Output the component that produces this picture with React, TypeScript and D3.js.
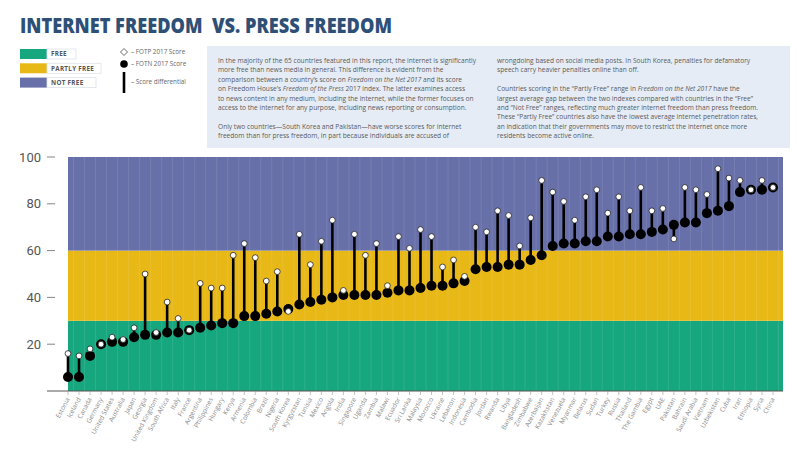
import React from "react";
import * as d3 from "d3";

const countries = ["Estonia","Iceland","Canada","Germany","United States","Australia","Japan","Georgia","United Kingdom","South Africa","Italy","France","Argentina","Philippines","Hungary","Kenya","Armenia","Colombia","Brazil","Nigeria","South Korea","Kyrgyzstan","Tunisia","Mexico","Angola","India","Singapore","Uganda","Zambia","Malawi","Ecuador","Sri Lanka","Malaysia","Morocco","Ukraine","Lebanon","Indonesia","Cambodia","Jordan","Rwanda","Libya","Bangladesh","Zimbabwe","Azerbaijan","Kazakhstan","Venezuela","Myanmar","Belarus","Sudan","Turkey","Russia","Thailand","The Gambia","Egypt","UAE","Pakistan","Bahrain","Saudi Arabia","Vietnam","Uzbekistan","Cuba","Iran","Ethiopia","Syria","China"];
const fotn = [6,6,15,20,21,21,23,24,24,25,25,26,27,28,29,29,32,32,33,34,35,37,38,39,40,41,41,41,41,42,43,43,44,45,45,46,47,52,53,53,54,54,56,58,62,63,63,64,64,66,66,67,67,68,69,71,72,72,76,77,79,85,86,86,87];
const fotp = [16,15,18,20,23,22,27,50,25,38,31,26,46,44,44,58,63,57,47,51,34,67,54,64,73,43,67,58,63,45,66,61,69,66,53,56,49,70,68,77,75,62,74,90,85,81,73,83,86,76,83,77,87,77,78,65,87,86,84,95,91,90,86,90,87];
const yTicks = [20, 40, 60, 80, 100];
const bands = [
  { label: "FREE", from: 0, to: 30, color: "#17a77f" },
  { label: "PARTLY FREE", from: 30, to: 60, color: "#e8b817" },
  { label: "NOT FREE", from: 60, to: 100, color: "#6870a9" },
];

type Seg = { t: string; i?: boolean };
const col1: Seg[][] = [
  [{ t: "In the majority of the 65 countries featured in this report, the internet is significantly" }],
  [{ t: "more free than news media in general. This difference is evident from the" }],
  [{ t: "comparison between a country\u2019s score on " }, { t: "Freedom on the Net 2017", i: true }, { t: " and its score" }],
  [{ t: "on Freedom House\u2019s " }, { t: "Freedom of the Press", i: true }, { t: " 2017 index. The latter examines access" }],
  [{ t: "to news content in any medium, including the internet, while the former focuses on" }],
  [{ t: "access to the internet for any purpose, including news reporting or consumption." }],
  [],
  [{ t: "Only two countries\u2014South Korea and Pakistan\u2014have worse scores for internet" }],
  [{ t: "freedom than for press freedom, in part because individuals are accused of" }],
];
const col2: Seg[][] = [
  [{ t: "wrongdoing based on social media posts. In South Korea, penalties for defamatory" }],
  [{ t: "speech carry heavier penalties online than off." }],
  [],
  [{ t: "Countries scoring in the \u201cPartly Free\u201d range in " }, { t: "Freedom on the Net 2017", i: true }, { t: " have the" }],
  [{ t: "largest average gap between the two indexes compared with countries in the \u201cFree\u201d" }],
  [{ t: "and \u201cNot Free\u201d ranges, reflecting much greater internet freedom than press freedom." }],
  [{ t: "These \u201cPartly Free\u201d countries also have the lowest average internet penetration rates," }],
  [{ t: "an indication that their governments may move to restrict the internet once more" }],
  [{ t: "residents become active online." }],
];

export default function App() {
  const W = 800, H = 452;
  const x = d3.scalePoint<string>().domain(countries).range([68, 773]);
  const step = x.step();
  const y = d3.scaleLinear().domain([0, 100]).range([391, 157]);
  const plotL = 68, plotR = 783;
  const font = "'Open Sans', 'Liberation Sans', sans-serif";
  const txtFill = "#5a5a5a";

  const renderCol = (lines: Seg[][], x0: number, y0: number, lh: number) =>
    lines.map((segs, li) => (
      <text key={li} x={x0} y={y0 + li * lh} fontSize={6.6} fill={txtFill} fontFamily={font}>
        {segs.map((s, si) => (
          <tspan key={si} fontStyle={s.i ? "italic" : "normal"}>{s.t}</tspan>
        ))}
      </text>
    ));

  return (
    <svg width={W} height={H} style={{ position: "absolute", left: 0, top: 0, background: "#fff" }} fontFamily={font}>
      <rect x={0} y={0} width={W} height={H} fill="#fff" />
      {/* Title */}
      <text x={20} y={33} fontSize={21} fontWeight={800} fill="#2e5077" textLength={372} lengthAdjust="spacingAndGlyphs">
        {"INTERNET FREEDOM\u00a0\u00a0VS. PRESS FREEDOM"}
      </text>

      {/* Legend bands */}
      {bands.map((b, i) => {
        const yy = 49 + i * 14.3;
        const bw = [29, 54, 49][i];
        return (
          <g key={b.label}>
            <rect x={20} y={yy} width={27} height={10} fill={b.color} />
            <rect x={47} y={yy} width={bw} height={10} fill="#fff" stroke="#dde3e8" strokeWidth={0.8} />
            <text x={51} y={yy + 7.3} fontSize={6.3} fontWeight={700} fill="#555" letterSpacing={0.3}>{b.label}</text>
          </g>
        );
      })}

      {/* Legend symbols */}
      <path d="M124,48.5 L127.5,52 L124,55.5 L120.5,52 Z" fill="#fff" stroke="#444" strokeWidth={0.8} />
      <text x={131} y={54.3} fontSize={6.3} fill="#666">– FOTP 2017 Score</text>
      <circle cx={124} cy={64} r={3.8} fill="#000" />
      <text x={131} y={66.3} fontSize={6.3} fill="#666">– FOTN 2017 Score</text>
      <rect x={122.7} y={72} width={2.6} height={21} fill="#000" />
      <text x={131} y={84.3} fontSize={6.3} fill="#666">– Score differential</text>

      {/* Text box */}
      <rect x={207} y={46} width={583} height={102} fill="#e6ecf5" />
      {renderCol(col1, 218, 63, 9.4)}
      {renderCol(col2, 497, 63, 9.4)}

      {/* Plot bands */}
      {bands.map((b) => (
        <rect key={b.label} x={plotL} y={y(b.to)} width={plotR - plotL} height={y(b.from) - y(b.to)} fill={b.color} />
      ))}
      {/* faint vertical grid */}
      {countries.map((c) => (
        <line key={"g" + c} x1={(x(c) as number) + step / 2} x2={(x(c) as number) + step / 2} y1={y(100)} y2={y(0)} stroke="#ffffff" strokeOpacity={0.13} strokeWidth={0.8} />
      ))}

      {/* Y axis */}
      {yTicks.map((t) => (
        <g key={t}>
          <text x={41} y={y(t) + 4.5} fontSize={13} fill="#555" textAnchor="end" fontFamily="'Roboto', sans-serif">{t}</text>
          <line x1={47} x2={55} y1={y(t)} y2={y(t)} stroke="#777" strokeWidth={0.9} />
        </g>
      ))}
      <line x1={47} x2={plotR} y1={y(0)} y2={y(0)} stroke="#555" strokeWidth={1} />

      {/* X ticks & labels */}
      {countries.map((c) => {
        const cx = x(c) as number;
        return (
          <g key={"x" + c}>
            <line x1={cx} x2={cx} y1={y(0)} y2={y(0) + 4} stroke="#999" strokeWidth={0.6} />
            <text transform={`translate(${cx + 2},${y(0) + 8}) rotate(-62)`} fontSize={6.5} fill="#888" textAnchor="end">{c}</text>
          </g>
        );
      })}

      {/* Differential lines, dots */}
      {countries.map((c, i) => {
        const cx = x(c) as number;
        return (
          <g key={"d" + c}>
            <line x1={cx} x2={cx} y1={y(fotn[i])} y2={y(fotp[i])} stroke="#000" strokeWidth={2.6} />
            <circle cx={cx} cy={y(fotn[i])} r={5} fill="#000" />
            <circle cx={cx} cy={y(fotp[i])} r={2.9} fill="#fff" stroke="#222" strokeWidth={0.8} />
          </g>
        );
      })}
    </svg>
  );
}
